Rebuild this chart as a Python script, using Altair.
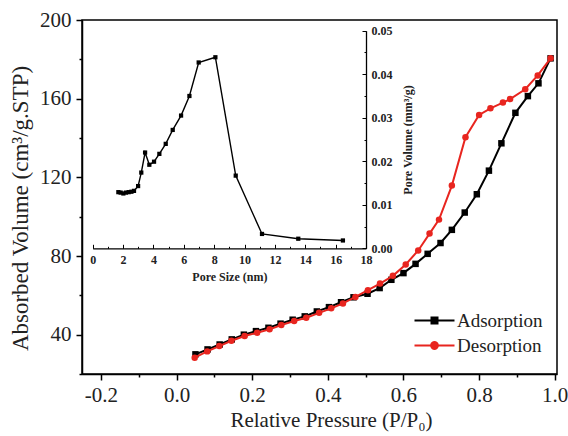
import altair as alt
import pandas as pd

# ---------------- data ----------------
series_names = ["Adsorption", "Desorption"]
series_colors = ["#000000", "#e8251f"]

ads_p = [0.050, 0.082, 0.114, 0.146, 0.178, 0.210, 0.243, 0.275, 0.307, 0.339,
         0.371, 0.403, 0.435, 0.468, 0.505, 0.537, 0.568, 0.600, 0.632, 0.664,
         0.698, 0.728, 0.762, 0.794, 0.826, 0.859, 0.896, 0.929, 0.957, 0.989]
ads_v = [30.0, 32.5, 35.0, 37.6, 40.0, 41.8, 43.5, 45.6, 47.6, 49.3,
         51.8, 54.0, 56.5, 59.0, 60.8, 63.7, 67.9, 71.3, 76.0, 81.1,
         86.6, 93.3, 102.1, 111.4, 123.4, 137.3, 152.8, 161.3, 167.8, 180.5]

des_p = [0.048, 0.081, 0.113, 0.145, 0.180, 0.213, 0.246, 0.277, 0.311, 0.343,
         0.377, 0.409, 0.440, 0.473, 0.506, 0.538, 0.572, 0.606, 0.639, 0.669,
         0.694, 0.728, 0.764, 0.800, 0.830, 0.863, 0.882, 0.922, 0.955, 0.989]
des_v = [28.3, 31.5, 34.2, 36.9, 39.3, 41.0, 42.7, 44.9, 46.9, 48.6,
         51.1, 53.4, 55.9, 59.2, 62.6, 66.0, 69.9, 75.7, 82.8, 91.4,
         98.5, 115.8, 140.4, 151.7, 155.1, 158.0, 159.8, 164.8, 171.8, 180.5]

pore_size = [1.69, 1.84, 2.02, 2.19, 2.37, 2.55, 2.72, 2.99, 3.20, 3.45,
             3.73, 4.04, 4.39, 4.81, 5.27, 5.82, 6.37, 6.98, 8.08, 9.42,
             11.15, 13.54, 16.48]
pore_vol = [0.0129, 0.0128, 0.0126, 0.0128, 0.0129, 0.0130, 0.0132, 0.0143, 0.0174, 0.0220,
            0.0192, 0.0199, 0.0217, 0.0240, 0.0272, 0.0305, 0.0350, 0.0427, 0.0439, 0.0167,
            0.0033, 0.0022, 0.0018]

x_ticks = [-0.2, -0.1, 0.0, 0.1, 0.2, 0.3, 0.4, 0.5, 0.6, 0.7, 0.8, 0.9, 1.0]
y_ticks = [20, 40, 60, 80, 100, 120, 140, 160, 180, 200]
inset_x_ticks = [0, 1, 2, 3, 4, 5, 6, 7, 8, 9, 10, 11, 12, 13, 14, 15, 16, 17, 18]
inset_y_ticks = [0, 0.005, 0.01, 0.015, 0.02, 0.025, 0.03, 0.035, 0.04, 0.045, 0.05]

main_df = pd.DataFrame({
    "P": ads_p + des_p,
    "V": ads_v + des_v,
    "series": [series_names[0]] * len(ads_p) + [series_names[1]] * len(des_p),
})
pore_df = pd.DataFrame({"size": pore_size, "vol": pore_vol})

FONT = "Liberation Serif"

# ---------------- main axes ----------------
x_main = alt.X(
    "P:Q",
    scale=alt.Scale(domain=[-0.25, 1.006], nice=False, zero=False),
    axis=alt.Axis(
        orient="bottom", values=x_ticks, grid=False,
        labelExpr="round(datum.value*10) % 2 === 0 ? ((datum.value < -0.001 ? '-' : '') + format(abs(datum.value), '.1f')) : ''",
        tickSize={"condition": {"test": "round(datum.value*10) % 2 === 0", "value": 6}, "value": 3},
        tickColor="black", tickWidth=1.5, domainColor="black", domainWidth=1.5,
        labelFont=FONT, labelFontSize=21, labelColor="#222", labelPadding=4,
        title="Relative Pressure (P/P₀)", titleFont=FONT, titleFontSize=21,
        titleFontWeight="normal", titleColor="#222",
        titleX=249, titleY=46, titleBaseline="middle", titleAlign="center",
        labelFlush=False, labelOverlap=False,
    ),
)
y_main = alt.Y(
    "V:Q",
    scale=alt.Scale(domain=[20, 200], nice=False, zero=False),
    axis=alt.Axis(
        orient="left", values=y_ticks, grid=False,
        labelExpr="datum.value % 40 === 0 ? datum.label : ''",
        tickSize={"condition": {"test": "datum.value % 40 === 0", "value": 6}, "value": 3},
        tickColor="black", tickWidth=1.5, domainColor="black", domainWidth=1.5,
        labelFont=FONT, labelFontSize=21, labelColor="#222", labelPadding=5,
        title="Absorbed Volume (cm³/g.STP)", titleFont=FONT, titleFontSize=23,
        titleFontWeight="normal", titleColor="#222",
        titleX=-62, titleY=188, titleBaseline="middle", titleAlign="center", titleAngle=270,
        labelFlush=False, labelOverlap=False,
    ),
)

base = alt.Chart(main_df)

def series_layers(name, color, shape):
    d = base.transform_filter(alt.datum.series == name)
    line = d.mark_line(color=color, strokeWidth=2).encode(x=x_main, y=y_main, order="P:Q")
    pts = d.mark_point(shape=shape, filled=True, color=color, size=42, opacity=1).encode(
        x=x_main, y=y_main)
    return [line, pts]

sq_path = "M-5,-0.25H-1V-1H1V-0.25H5V0.25H1V1H-1V0.25H-5Z"
ci_path = ("M-5,-0.25H-1.07A1.1,1.1 0 0,1 1.07,-0.25H5V0.25H1.07"
           "A1.1,1.1 0 0,1 -1.07,0.25H-5Z")

legend = alt.Legend(
    title=None, orient="none", legendX=343, legendY=291,
    labelFont=FONT, labelFontSize=19, labelColor="#222", labelOffset=13,
    symbolSize=64, symbolStrokeWidth=0, symbolOpacity=1, rowPadding=5, padding=0,
)
legend_layer = base.transform_filter("false").mark_point(filled=True, opacity=1).encode(
    x=x_main, y=y_main,
    color=alt.Color("series:N", scale=alt.Scale(domain=series_names, range=series_colors), legend=legend),
    shape=alt.Shape("series:N", scale=alt.Scale(domain=series_names, range=[sq_path, ci_path]), legend=legend),
)

main_group = alt.layer(
    *series_layers(series_names[0], series_colors[0], "square"),
    *series_layers(series_names[1], series_colors[1], "circle"),
    legend_layer,
)

# ---------------- inset ----------------
x_inset = alt.X(
    "size:Q",
    scale=alt.Scale(domain=[0, 18], range=[10.7, 284], nice=False, zero=False),
    axis=alt.Axis(
        orient="top", offset=-228.3, values=inset_x_ticks, grid=False,
        labelExpr="datum.value % 2 === 0 ? datum.label : ''",
        tickSize={"condition": {"test": "datum.value % 2 === 0", "value": 4}, "value": 2},
        tickColor="black", tickWidth=1, domainColor="black", domainWidth=1.3,
        labelFont=FONT, labelFontSize=12, labelFontWeight="bold", labelColor="#222",
        labelBaseline="top", labelPadding=-10,
        title="Pore Size (nm)", titleFont=FONT, titleFontSize=12, titleFontWeight="bold",
        titleColor="#222", titleY=28, titleBaseline="middle",
        labelFlush=False, labelOverlap=False,
    ),
)
y_inset = alt.Y(
    "vol:Q",
    scale=alt.Scale(domain=[0, 0.05], range=[228.3, 10.7], nice=False, zero=False),
    axis=alt.Axis(
        orient="left", offset=-284, values=inset_y_ticks, grid=False,
        labelExpr="round(datum.value*1000) % 10 === 0 ? format(datum.value, '.2f') : ''",
        tickSize={"condition": {"test": "round(datum.value*1000) % 10 === 0", "value": 4}, "value": 2},
        tickColor="black", tickWidth=1, domainColor="black", domainWidth=1.3,
        labelFont=FONT, labelFontSize=12, labelFontWeight="bold", labelColor="#222",
        labelAlign="left", labelPadding=-9,
        title="Pore Volume (mm³/g)", titleFont=FONT, titleFontSize=12, titleFontWeight="bold",
        titleColor="#222", titleX=41, titleBaseline="middle", titleAngle=270,
        labelFlush=False, labelOverlap=False,
    ),
)

inset_base = alt.Chart(pore_df)
inset_line = inset_base.mark_line(color="black", strokeWidth=1.4).encode(x=x_inset, y=y_inset, order="size:Q")
inset_pts = inset_base.mark_point(shape="square", filled=True, color="black", size=18, opacity=1).encode(
    x=x_inset, y=y_inset)
inset_group = alt.layer(inset_line, inset_pts)

chart = alt.layer(main_group, inset_group).resolve_scale(
    x="independent", y="independent"
).properties(
    width=475, height=354,
    padding={"left": 82, "top": 20, "right": 11, "bottom": 62},
    autosize="none",
    background="white",
).configure(
    font=FONT
).configure_axis(
    labelFont=FONT, titleFont=FONT
).configure_legend(
    labelFont=FONT
).configure_view(stroke="black", strokeWidth=1.5)

chart.save("out.html", embed_options={"renderer": "svg", "actions": False})
